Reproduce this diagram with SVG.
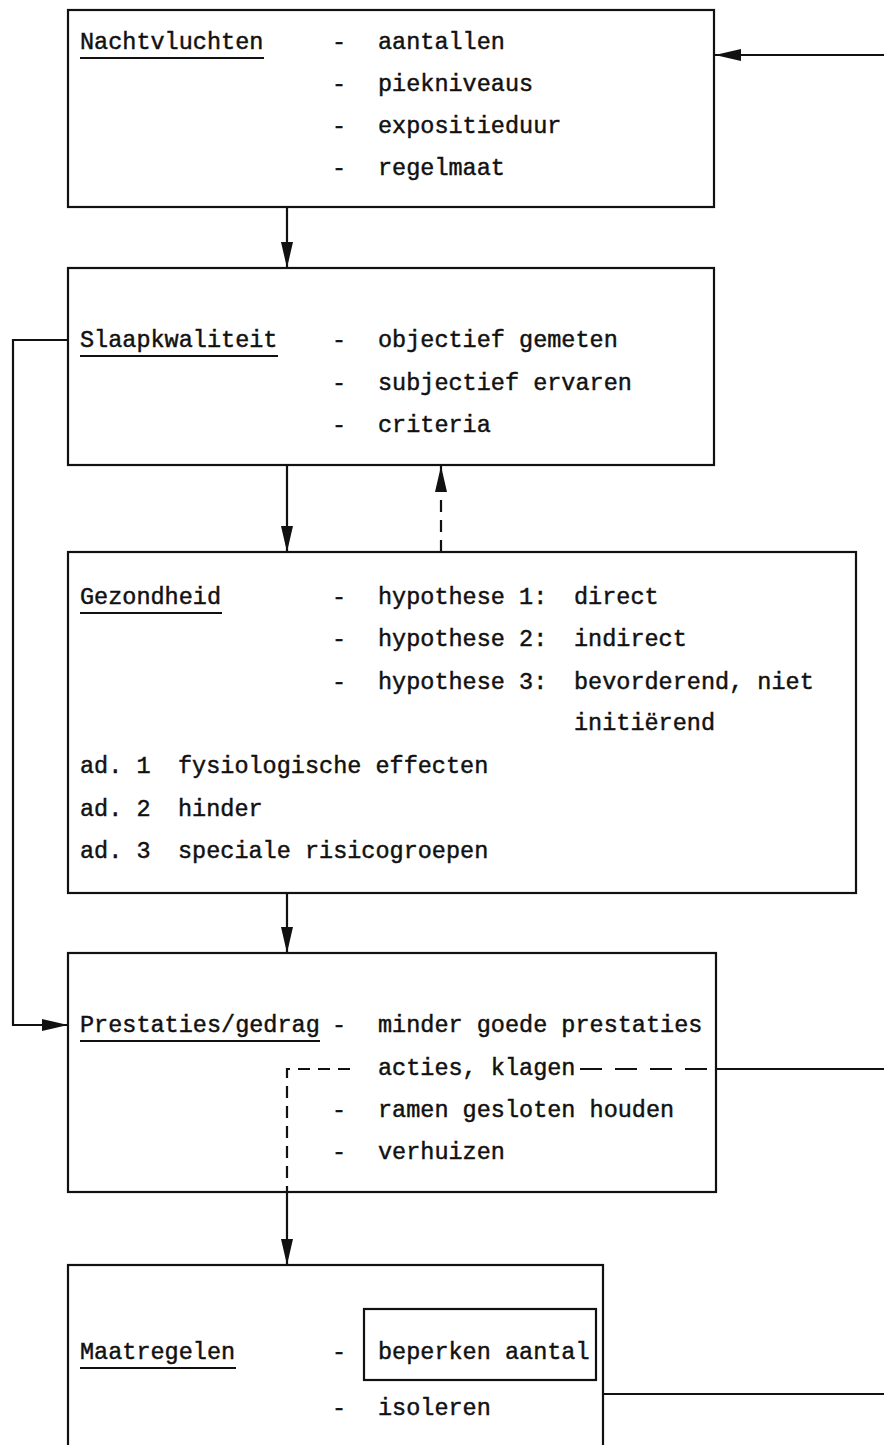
<svg xmlns="http://www.w3.org/2000/svg" width="884" height="1445" viewBox="0 0 884 1445">
<defs>
<style>
.box{fill:none;stroke:#111;stroke-width:2.2}
.t{font-family:"Liberation Mono","DejaVu Sans Mono",monospace;font-size:23.5px;fill:#111;stroke:#111;stroke-width:0.45}
.ul{stroke:#111;stroke-width:2.2}
.ln{fill:none;stroke:#111;stroke-width:2.2}
.dash{fill:none;stroke:#111;stroke-width:2.2;stroke-dasharray:12 8}
.dash2{fill:none;stroke:#111;stroke-width:2.2;stroke-dasharray:22 13}
</style>
<marker id="ah" viewBox="0 0 26 12" refX="26" refY="6" markerWidth="26" markerHeight="12" markerUnits="userSpaceOnUse" orient="auto">
<path d="M0,0 L26,6 L0,12 Z" fill="#111"/>
</marker>
</defs>
<rect width="884" height="1445" fill="#fff"/>
<g id="nachtvluchten">
<rect class="box" x="68" y="10" width="646" height="197"/>
<text class="t" x="80" y="49">Nachtvluchten</text>
<line class="ul" x1="80" y1="58" x2="264" y2="58"/>
<text class="t" x="332" y="49">-</text><text class="t" x="378" y="49">aantallen</text>
<text class="t" x="332" y="91">-</text><text class="t" x="378" y="91">piekniveaus</text>
<text class="t" x="332" y="133">-</text><text class="t" x="378" y="133">expositieduur</text>
<text class="t" x="332" y="175">-</text><text class="t" x="378" y="175">regelmaat</text>
</g>
<g id="slaapkwaliteit">
<rect class="box" x="68" y="268" width="646" height="197"/>
<text class="t" x="80" y="347">Slaapkwaliteit</text>
<line class="ul" x1="80" y1="356" x2="278" y2="356"/>
<text class="t" x="332" y="347">-</text><text class="t" x="378" y="347">objectief gemeten</text>
<text class="t" x="332" y="390">-</text><text class="t" x="378" y="390">subjectief ervaren</text>
<text class="t" x="332" y="432">-</text><text class="t" x="378" y="432">criteria</text>
</g>
<g id="gezondheid">
<rect class="box" x="68" y="552" width="788" height="341"/>
<text class="t" x="80" y="604">Gezondheid</text>
<line class="ul" x1="80" y1="613" x2="222" y2="613"/>
<text class="t" x="332" y="604">-</text><text class="t" x="378" y="604">hypothese 1:</text><text class="t" x="574" y="604">direct</text>
<text class="t" x="332" y="646">-</text><text class="t" x="378" y="646">hypothese 2:</text><text class="t" x="574" y="646">indirect</text>
<text class="t" x="332" y="689">-</text><text class="t" x="378" y="689">hypothese 3:</text><text class="t" x="574" y="689">bevorderend, niet</text>
<text class="t" x="574" y="730">initiërend</text>
<text class="t" x="80" y="773">ad. 1</text><text class="t" x="178" y="773">fysiologische effecten</text>
<text class="t" x="80" y="816">ad. 2</text><text class="t" x="178" y="816">hinder</text>
<text class="t" x="80" y="858">ad. 3</text><text class="t" x="178" y="858">speciale risicogroepen</text>
</g>
<g id="prestaties">
<rect class="box" x="68" y="953" width="648" height="239"/>
<text class="t" x="80" y="1032">Prestaties/gedrag</text>
<line class="ul" x1="80" y1="1041" x2="320" y2="1041"/>
<text class="t" x="332" y="1032">-</text><text class="t" x="378" y="1032">minder goede prestaties</text>
<text class="t" x="378" y="1075">acties, klagen</text>
<text class="t" x="332" y="1117">-</text><text class="t" x="378" y="1117">ramen gesloten houden</text>
<text class="t" x="332" y="1159">-</text><text class="t" x="378" y="1159">verhuizen</text>
</g>
<g id="maatregelen">
<rect class="box" x="68" y="1265" width="535" height="190"/>
<text class="t" x="80" y="1359">Maatregelen</text>
<line class="ul" x1="80" y1="1368" x2="236" y2="1368"/>
<text class="t" x="332" y="1359">-</text>
<rect class="box" x="364" y="1309" width="232" height="71"/>
<text class="t" x="378" y="1359">beperken aantal</text>
<text class="t" x="332" y="1415">-</text><text class="t" x="378" y="1415">isoleren</text>
</g>
<g id="connectors">
<line class="ln" x1="884" y1="55" x2="715" y2="55" marker-end="url(#ah)"/>
<line class="ln" x1="287" y1="207" x2="287" y2="268" marker-end="url(#ah)"/>
<line class="ln" x1="287" y1="465" x2="287" y2="552" marker-end="url(#ah)"/>
<line class="dash" x1="441" y1="552" x2="441" y2="466" marker-end="url(#ah)"/>
<polyline class="ln" points="68,340 13,340 13,1025 68,1025" marker-end="url(#ah)"/>
<line class="ln" x1="287" y1="893" x2="287" y2="953" marker-end="url(#ah)"/>
<polyline class="dash" points="350,1069 287,1069 287,1192"/>
<line class="dash2" x1="580" y1="1069" x2="716" y2="1069"/>
<line class="ln" x1="716" y1="1069" x2="884" y2="1069"/>
<line class="ln" x1="287" y1="1192" x2="287" y2="1265" marker-end="url(#ah)"/>
<line class="ln" x1="603" y1="1394" x2="884" y2="1394"/>
</g>
</svg>
